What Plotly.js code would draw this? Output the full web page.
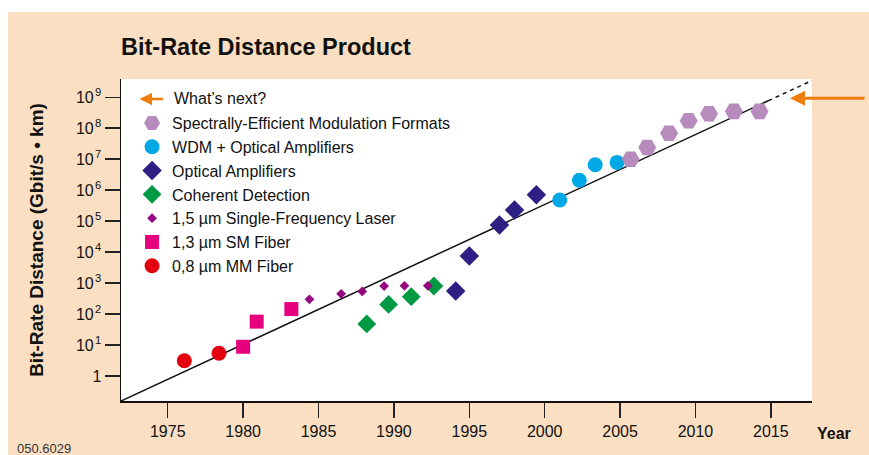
<!DOCTYPE html>
<html>
<head>
<meta charset="utf-8">
<script src="https://cdn.plot.ly/plotly-3.0.1.min.js"></script>
<style>
  html, body { margin: 0; padding: 0; background: #ffffff; width: 869px; height: 455px; overflow: hidden; }
  #chart { position: absolute; left: 8px; top: 12px; width: 861px; height: 443px; }
</style>
</head>
<body>
<div id="chart"></div>
<script>
// ---- data ----
const mmFiberYears = [1976.1, 1978.4];
const mmFiberValues = [3.1, 5.4];

const smFiberYears = [1980.0, 1980.9, 1983.2];
const smFiberValues = [8.8, 57, 145];

const laserYears = [1984.4, 1986.5, 1987.9, 1989.35, 1990.7, 1992.25];
const laserValues = [300, 450, 540, 800, 820, 820];

const coherentYears = [1988.2, 1989.65, 1991.15, 1992.65];
const coherentValues = [48, 205, 365, 805];

const amplifierYears = [1994.1, 1995.0, 1997.0, 1998.0, 1999.45];
const amplifierValues = [555, 7500, 75000, 230000, 715000];

const wdmYears = [2001.0, 2002.3, 2003.35, 2004.8];
const wdmValues = [480000, 2.1e6, 6.6e6, 7.9e6];

const modulationYears = [2005.7, 2006.8, 2008.25, 2009.55, 2010.9, 2012.55, 2014.25];
const modulationValues = [1.0e7, 2.4e7, 6.9e7, 1.75e8, 2.95e8, 3.5e8, 3.5e8];

const trendYears = [1971.9, 2014.83];
const trendValues = [0.156, 7.71e8];
const trendNextYears = [2014.83, 2017.73];
const trendNextValues = [7.71e8, 3.48e9];

const yearTicks = [1975, 1980, 1985, 1990, 1995, 2000, 2005, 2010, 2015];
const valueTicks = [1, 10, 1e2, 1e3, 1e4, 1e5, 1e6, 1e7, 1e8, 1e9];
const valueTickText = ['1', '10\u200a<sup>1</sup>', '10\u200a<sup>2</sup>', '10\u200a<sup>3</sup>', '10\u200a<sup>4</sup>',
  '10\u200a<sup>5</sup>', '10\u200a<sup>6</sup>', '10\u200a<sup>7</sup>', '10\u200a<sup>8</sup>', '10\u200a<sup>9</sup>'];

const seriesNames = [
  '0,8 µm MM Fiber',
  '1,3 µm SM Fiber',
  '1,5 µm Single-Frequency Laser',
  'Coherent Detection',
  'Optical Amplifiers',
  'WDM + Optical Amplifiers',
  'Spectrally-Efficient Modulation Formats'
];

// ---- styling ----
const FONT = 'Liberation Sans, Arial, sans-serif';
const ORANGE = '#EF7D0B';
const PEACH = '#FADFC2';

const traces = [
  { x: trendYears, y: trendValues, mode: 'lines', line: { color: '#111111', width: 1.5 }, showlegend: false, hoverinfo: 'skip' },
  { x: trendNextYears, y: trendNextValues, mode: 'lines', line: { color: '#111111', width: 1.5, dash: '4px,4px' }, showlegend: false, hoverinfo: 'skip' },
  { x: mmFiberYears, y: mmFiberValues, name: seriesNames[0], mode: 'markers', legendrank: 7,
    marker: { symbol: 'circle', size: 15, color: '#E3000F' } },
  { x: smFiberYears, y: smFiberValues, name: seriesNames[1], mode: 'markers', legendrank: 6,
    marker: { symbol: 'square', size: 14, color: '#E5007E' } },
  { x: coherentYears, y: coherentValues, name: seriesNames[3], mode: 'markers', legendrank: 4,
    marker: { symbol: 'diamond', size: 14.5, color: '#009A44' } },
  { x: laserYears, y: laserValues, name: seriesNames[2], mode: 'markers', legendrank: 5,
    marker: { symbol: 'diamond', size: 7.5, color: '#95067F' } },
  { x: amplifierYears, y: amplifierValues, name: seriesNames[4], mode: 'markers', legendrank: 3,
    marker: { symbol: 'diamond', size: 15, color: '#2E1F85' } },
  { x: wdmYears, y: wdmValues, name: seriesNames[5], mode: 'markers', legendrank: 2,
    marker: { symbol: 'circle', size: 15, color: '#00A8E6' } },
  { x: modulationYears, y: modulationValues, name: seriesNames[6], mode: 'markers', legendrank: 1,
    marker: { symbol: 'hexagon2', size: 18, color: '#B88BBD' } }
];

const layout = {
  width: 861,
  height: 443,
  margin: { l: 113, r: 57, t: 67, b: 54, pad: 0 },
  paper_bgcolor: PEACH,
  plot_bgcolor: '#ffffff',
  font: { family: FONT, size: 16, color: '#111111' },
  showlegend: true,
  title: {
    text: 'Bit-Rate Distance Product',
    font: { family: FONT, size: 23.5, color: '#111111', weight: 'bold' },
    xref: 'paper', x: 0, xanchor: 'left',
    yref: 'container', y: 0.9217, yanchor: 'middle'
  },
  legend: {
    x: 0.016, xanchor: 'left',
    y: 0.916, yanchor: 'top',
    traceorder: 'normal',
    bgcolor: 'rgba(0,0,0,0)',
    borderwidth: 0,
    font: { family: FONT, size: 16, color: '#111111' }
  },
  xaxis: {
    range: [1971.9, 2017.73],
    tickmode: 'array',
    tickvals: yearTicks,
    ticktext: yearTicks.map(String),
    ticks: 'outside', ticklen: 15, tickwidth: 1.5, tickcolor: '#222222',
    showline: true, linecolor: '#111111', linewidth: 1.5,
    showgrid: false, zeroline: false,
    tickfont: { family: FONT, size: 16, color: '#111111' },
    fixedrange: true
  },
  yaxis: {
    type: 'log',
    range: [-0.807, 9.59],
    tickmode: 'array',
    tickvals: valueTicks,
    ticktext: valueTickText,
    ticks: 'outside', ticklen: 15, tickwidth: 1.5, tickcolor: '#222222',
    showline: true, linecolor: '#111111', linewidth: 1.5,
    showgrid: false, zeroline: false,
    tickfont: { family: FONT, size: 16, color: '#111111' },
    title: {
      text: 'Bit-Rate Distance (Gbit/s • km)',
      font: { family: FONT, size: 19, color: '#111111', weight: 'bold' },
      standoff: 27
    },
    fixedrange: true
  },
  annotations: [
    { xref: 'paper', yref: 'paper', x: 0.0269, y: 0.938, text: '', showarrow: true,
      ax: 25, ay: 0, arrowhead: 2, arrowsize: 1, arrowwidth: 2.5, arrowcolor: ORANGE, standoff: 0 },
    { xref: 'paper', yref: 'paper', x: 0.0738, y: 0.938, xanchor: 'left', yanchor: 'middle',
      text: 'What’s next?', showarrow: false, font: { family: FONT, size: 16, color: '#111111' } },
    { xref: 'paper', yref: 'paper', x: 0.9682, y: 0.940, text: '', showarrow: true,
      ax: 76, ay: 0, arrowhead: 2, arrowsize: 1, arrowwidth: 3, arrowcolor: ORANGE, standoff: 0 },
    { xref: 'paper', yref: 'paper', x: 1.005, y: -0.1, xanchor: 'left', yanchor: 'middle',
      text: '<b>Year</b>', showarrow: false, font: { family: FONT, size: 16, color: '#111111' } },
    { xref: 'paper', yref: 'paper', x: -0.154, y: -0.149, xanchor: 'left', yanchor: 'middle',
      text: '050.6029', showarrow: false, font: { family: FONT, size: 13, color: '#333333' } }
  ]
};

Plotly.newPlot('chart', traces, layout, { displayModeBar: false, staticPlot: true });
</script>
</body>
</html>
